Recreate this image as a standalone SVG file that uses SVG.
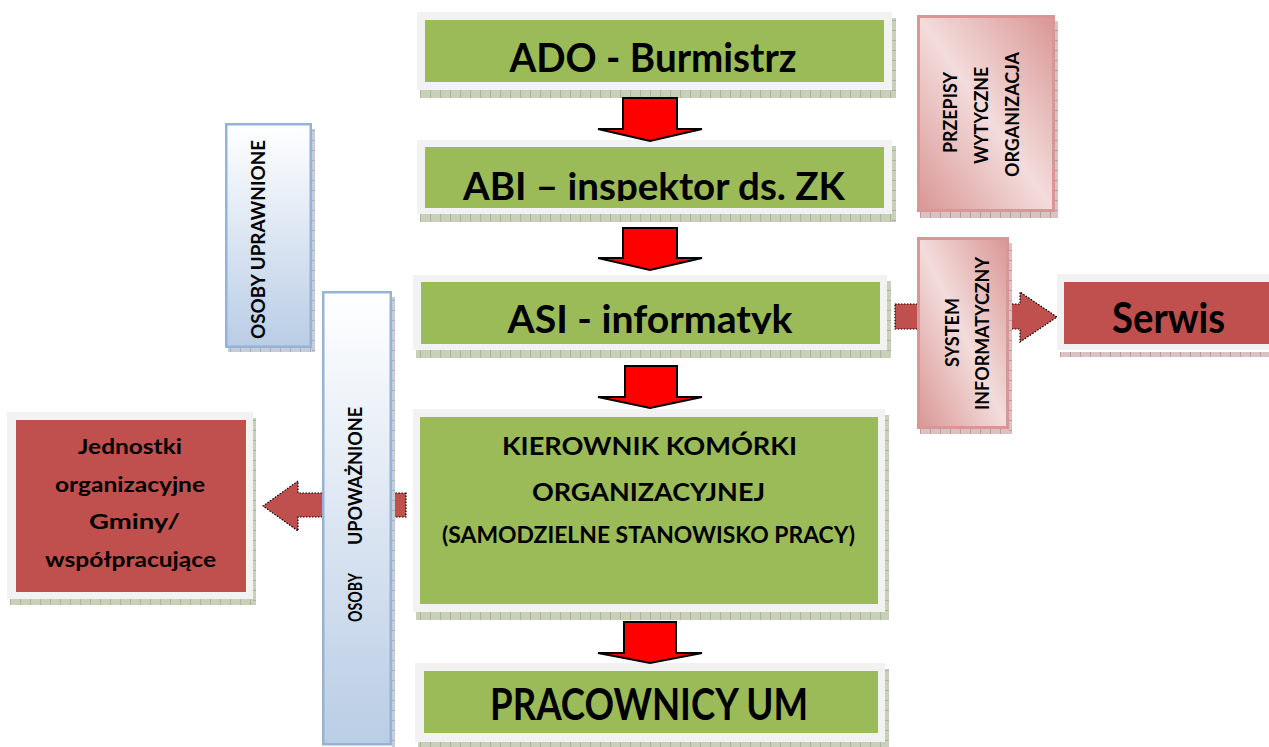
<svg xmlns="http://www.w3.org/2000/svg" width="1269" height="747" viewBox="0 0 1269 747">
  <defs>
    <style>
      .frame { fill: #F2F2F2; }
      .green { fill: #9BBB59; }
      .red { fill: #C0504D; }
      .pinkbox { fill: url(#pinkGrad); stroke: #D99694; stroke-width: 3; }
      .bluebox { fill: url(#blueGrad); stroke: #95B3D7; stroke-width: 2.5; }
      .t { font-family: Lato, "Liberation Sans", Arial, sans-serif; font-weight: bold; fill: #000; text-anchor: middle; }
      .big { font-size: 40px; }
      .mid { font-size: 24px; }
      .sml { font-size: 22px; }
      .jed { font-size: 21px; }
      .rot { font-size: 18.5px; }
      .down { fill: #FF0000; stroke: #000; stroke-width: 2; stroke-linejoin: miter; }
      .side { fill: #C0504D; stroke: #000; stroke-width: 1.2; stroke-dasharray: 1.5 1.5; }
    </style>
    <linearGradient id="pinkGrad" x1="0" y1="1" x2="1" y2="0">
      <stop offset="0" stop-color="#D99694"/>
      <stop offset="0.5" stop-color="#F2DCDB"/>
      <stop offset="1" stop-color="#D99694"/>
    </linearGradient>
    <linearGradient id="blueGrad" x1="0" y1="0" x2="0" y2="1">
      <stop offset="0" stop-color="#FFFFFF"/>
      <stop offset="1" stop-color="#B9CDE5"/>
    </linearGradient>
    <!-- textured drop shadows: vertical ticks for bottom strips, horizontal ticks for right strips -->
    <pattern id="gB" width="10" height="8" patternUnits="userSpaceOnUse">
      <rect width="10" height="8" fill="#C8D0BA"/>
      <path d="M0 0V8" stroke="#8C9A76" stroke-width="1"/>
    </pattern>
    <pattern id="gR" width="4" height="10" patternUnits="userSpaceOnUse">
      <rect width="4" height="10" fill="#C8D0BA"/>
      <path d="M0 0H4" stroke="#8C9A76" stroke-width="1"/>
    </pattern>
    <pattern id="rB" width="10" height="8" patternUnits="userSpaceOnUse">
      <rect width="10" height="8" fill="#D8C2C2"/>
      <path d="M0 0V8" stroke="#9E7474" stroke-width="1"/>
    </pattern>
    <pattern id="rR" width="4" height="10" patternUnits="userSpaceOnUse">
      <rect width="4" height="10" fill="#D8C2C2"/>
      <path d="M0 0H4" stroke="#9E7474" stroke-width="1"/>
    </pattern>
    <pattern id="bB" width="10" height="8" patternUnits="userSpaceOnUse">
      <rect width="10" height="8" fill="#C6CDD8"/>
      <path d="M0 0V8" stroke="#8492A8" stroke-width="1"/>
    </pattern>
    <pattern id="bR" width="4" height="10" patternUnits="userSpaceOnUse">
      <rect width="4" height="10" fill="#C6CDD8"/>
      <path d="M0 0H4" stroke="#8492A8" stroke-width="1"/>
    </pattern>
    <clipPath id="clipAbi"><rect x="425" y="147" width="459" height="54"/></clipPath>
    <clipPath id="clipAsi"><rect x="421" y="282" width="459" height="52"/></clipPath>
  </defs>

  <rect width="1269" height="747" fill="#FFFFFF"/>

  <!-- main chain -->
  <g id="ado">
    <rect x="420" y="90" width="476" height="8" fill="url(#gB)"/>
    <rect x="892" y="18" width="4" height="80" fill="url(#gR)"/>
    <rect class="frame" x="417" y="12" width="475" height="78"/>
    <rect class="green" x="425" y="20" width="459" height="62"/>
    <text class="t big" x="653" y="72" textLength="287" lengthAdjust="spacingAndGlyphs">ADO - Burmistrz</text>
  </g>

  <g id="abi">
    <rect x="420" y="214" width="476" height="8" fill="url(#gB)"/>
    <rect x="892" y="146" width="4" height="76" fill="url(#gR)"/>
    <rect class="frame" x="417" y="140" width="475" height="74"/>
    <rect class="green" x="425" y="147" width="459" height="61"/>
    <g clip-path="url(#clipAbi)">
      <text class="t" style="font-size:38px" x="654" y="200" textLength="382" lengthAdjust="spacingAndGlyphs">ABI – inspektor ds. ZK</text>
    </g>
  </g>

  <g id="asi">
    <rect x="416" y="350" width="475" height="8" fill="url(#gB)"/>
    <rect x="887" y="281" width="4" height="77" fill="url(#gR)"/>
    <rect class="frame" x="413" y="275" width="474" height="75"/>
    <rect class="green" x="421" y="282" width="459" height="62"/>
    <g clip-path="url(#clipAsi)">
      <text class="t" style="font-size:39px" x="650" y="333" textLength="285" lengthAdjust="spacingAndGlyphs">ASI - informatyk</text>
    </g>
  </g>

  <g id="kierownik">
    <rect x="416" y="612" width="473" height="8" fill="url(#gB)"/>
    <rect x="885" y="415" width="4" height="205" fill="url(#gR)"/>
    <rect class="frame" x="413" y="409" width="472" height="203"/>
    <rect class="green" x="420" y="417" width="458" height="187"/>
    <text class="t mid" x="649.5" y="455" textLength="295" lengthAdjust="spacingAndGlyphs">KIEROWNIK KOMÓRKI</text>
    <text class="t mid" x="648.5" y="501" textLength="233" lengthAdjust="spacingAndGlyphs">ORGANIZACYJNEJ</text>
    <text class="t sml" x="648.5" y="543" textLength="413" lengthAdjust="spacingAndGlyphs">(SAMODZIELNE STANOWISKO PRACY)</text>
  </g>

  <g id="pracownicy">
    <rect x="418" y="742" width="471" height="8" fill="url(#gB)"/>
    <rect x="885" y="669" width="4" height="81" fill="url(#gR)"/>
    <rect class="frame" x="415" y="663" width="470" height="79"/>
    <rect class="green" x="424" y="671" width="454" height="62"/>
    <text class="t" style="font-size:44px" x="649" y="720" textLength="318" lengthAdjust="spacingAndGlyphs">PRACOWNICY UM</text>
  </g>

  <!-- connectors -->
  <g id="connectors">
    <polygon class="down" points="623,98 677,98 677,129 702,129 650,141 598,129 623,129"/>
    <polygon class="down" points="623,228 677,228 677,258 702,258 650,270 598,258 623,258"/>
    <polygon class="down" points="625,366 677,366 677,397 702,397 650,408 598,397 625,397"/>
    <polygon class="down" points="624,622 676,622 676,653 702,653 650,663 598,653 624,653"/>
    <polygon class="side" points="895,304 1020,304 1020,292 1057,317 1020,342 1020,329 895,329"/>
    <polygon class="side" points="406,493 298,493 298,481 263,506 298,531 298,517 406,517"/>
  </g>

  <!-- side boxes -->
  <g id="przepisy">
    <rect x="920" y="212" width="138" height="6" fill="url(#rB)"/>
    <rect x="1055" y="21" width="3" height="197" fill="url(#rR)"/>
    <rect class="pinkbox" x="918.5" y="16.5" width="135" height="194"/>
    <text class="t rot" transform="translate(957,112.5) rotate(-90)" textLength="81" lengthAdjust="spacingAndGlyphs">PRZEPISY</text>
    <text class="t rot" transform="translate(988,115.5) rotate(-90)" textLength="97" lengthAdjust="spacingAndGlyphs">WYTYCZNE</text>
    <text class="t rot" transform="translate(1019,114.5) rotate(-90)" textLength="125" lengthAdjust="spacingAndGlyphs">ORGANIZACJA</text>
  </g>

  <g id="system">
    <rect x="920" y="429" width="92" height="5" fill="url(#rB)"/>
    <rect x="1009" y="243" width="3" height="191" fill="url(#rR)"/>
    <rect class="pinkbox" x="918.5" y="238.5" width="89" height="189"/>
    <text class="t rot" transform="translate(959,332.5) rotate(-90)" textLength="69" lengthAdjust="spacingAndGlyphs">SYSTEM</text>
    <text class="t rot" transform="translate(989,333.5) rotate(-90)" textLength="153" lengthAdjust="spacingAndGlyphs">INFORMATYCZNY</text>
  </g>

  <g id="serwis">
    <rect x="1060" y="352" width="209" height="5" fill="url(#rB)"/>
    <rect class="frame" x="1057" y="274" width="212" height="76"/>
    <rect class="red" x="1064" y="282" width="205" height="62"/>
    <text class="t" style="font-size:42px" x="1168.5" y="333" textLength="113" lengthAdjust="spacingAndGlyphs">Serwis</text>
  </g>

  <g id="osoby-uprawnione">
    <rect x="228" y="348" width="87" height="4" fill="url(#bB)"/>
    <rect x="312" y="129" width="3" height="223" fill="url(#bR)"/>
    <rect class="bluebox" x="226.25" y="124.25" width="84.5" height="222.5"/>
    <text class="t rot" transform="translate(265,239.5) rotate(-90)" textLength="199" lengthAdjust="spacingAndGlyphs">OSOBY UPRAWNIONE</text>
  </g>

  <g id="osoby-upowaznione">
    <rect x="392" y="297" width="3" height="450" fill="url(#bR)"/>
    <rect class="bluebox" x="323.25" y="292.25" width="67.5" height="452"/>
    <text class="t rot" transform="translate(362,476) rotate(-90)" textLength="138" lengthAdjust="spacingAndGlyphs">UPOWAŻNIONE</text>
    <text class="t rot" transform="translate(362,597.5) rotate(-90)" textLength="49" lengthAdjust="spacingAndGlyphs">OSOBY</text>
  </g>

  <g id="jednostki">
    <rect x="10" y="599" width="246" height="6" fill="url(#gB)"/>
    <rect x="253" y="418" width="3" height="187" fill="url(#gR)"/>
    <rect class="frame" x="7" y="412" width="246" height="187"/>
    <rect class="red" x="16" y="420" width="230" height="172"/>
    <text class="t jed" x="130" y="454" textLength="104" lengthAdjust="spacingAndGlyphs">Jednostki</text>
    <text class="t jed" x="130" y="492" textLength="150" lengthAdjust="spacingAndGlyphs">organizacyjne</text>
    <text class="t jed" x="134.5" y="529" textLength="91" lengthAdjust="spacingAndGlyphs">Gminy/</text>
    <text class="t jed" x="130.5" y="567" textLength="171" lengthAdjust="spacingAndGlyphs">współpracujące</text>
  </g>
</svg>
